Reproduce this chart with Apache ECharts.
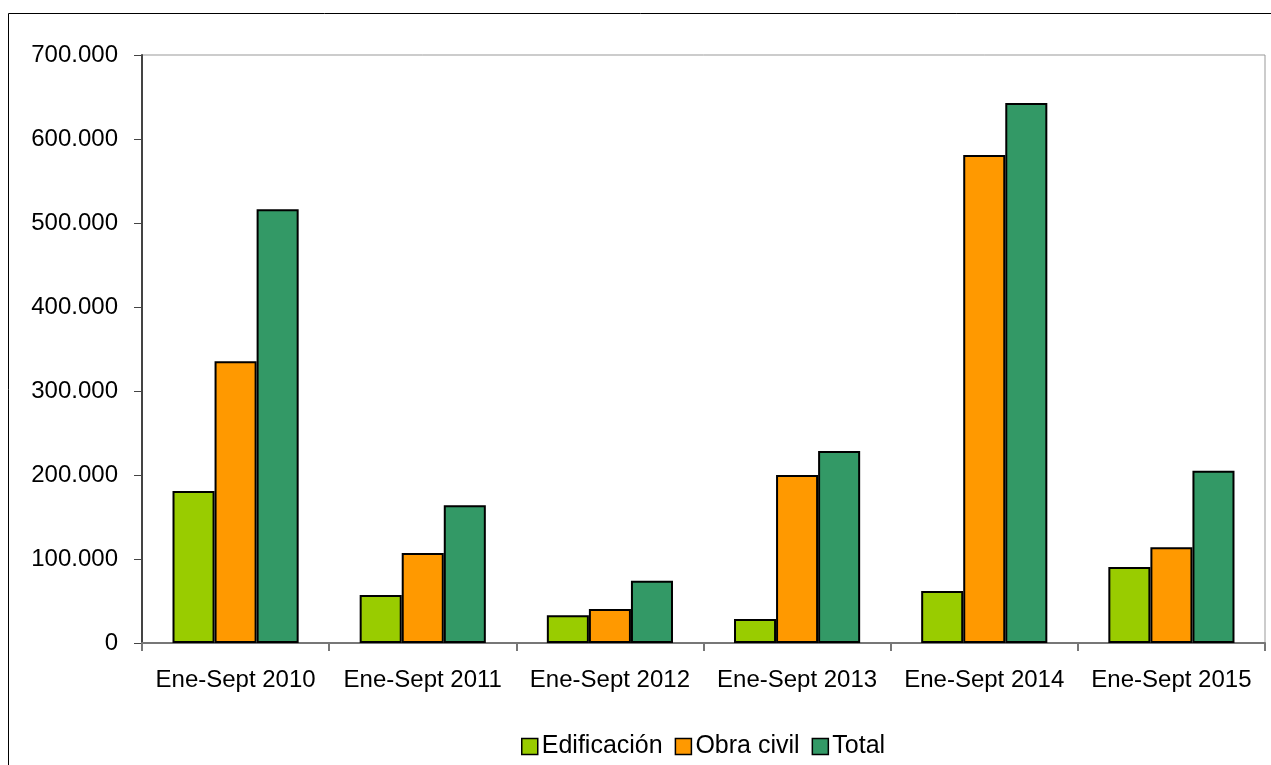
<!DOCTYPE html>
<html>
<head>
<meta charset="utf-8">
<script src="https://cdn.jsdelivr.net/npm/echarts@6/dist/echarts.min.js"></script>
<style>
  html, body { margin: 0; padding: 0; background: #fff; }
  #chart { width: 1271px; height: 765px; }
</style>
</head>
<body>
<div id="chart"></div>
<script>
var categories = ["Ene-Sept 2010", "Ene-Sept 2011", "Ene-Sept 2012", "Ene-Sept 2013", "Ene-Sept 2014", "Ene-Sept 2015"];
var edificacion = [181000, 57000, 33000, 28500, 62000, 90500];
var obraCivil = [335500, 107000, 40500, 200000, 581000, 114000];
var total = [516500, 164000, 74000, 228500, 643000, 205000];
var seriesNames = ["Edificación", "Obra civil", "Total"];
var colors = ["#99CC00", "#FF9900", "#339966"];

var chart = echarts.init(document.getElementById("chart"));

function fmt(v) {
  return String(v).replace(/\B(?=(\d{3})+(?!\d))/g, ".");
}

function barSeries(name, data, color) {
  return {
    name: name,
    type: "bar",
    barGap: "0%",
    barCategoryGap: "32.6%",
    itemStyle: {
      color: color,
      borderColor: "#000",
      borderWidth: 2
    },
    data: data
  };
}

var option = {
  animation: false,
  textStyle: { fontFamily: "Liberation Sans, Arial, sans-serif" },
  graphic: [
    {
      type: "rect",
      shape: { x: 8.5, y: 13.5, width: 1300, height: 800 },
      style: { fill: "none", stroke: "#000", lineWidth: 1 },
      silent: true,
      z: -10
    }
  ],
  grid: {
    left: 142,
    top: 55,
    right: 6,
    bottom: 122,
    show: true,
    borderColor: "#999",
    borderWidth: 1
  },
  legend: {
    top: 734,
    left: 521,
    padding: 0,
    icon: "rect",
    itemWidth: 16,
    itemHeight: 16,
    itemGap: 12,
    textStyle: { fontSize: 25, color: "#000", padding: [0, 0, 0, -1] },
    itemStyle: { borderColor: "#000", borderWidth: 1.5 },
    data: seriesNames
  },
  xAxis: {
    type: "category",
    data: categories,
    axisLine: { lineStyle: { color: "#777", width: 2 } },
    axisTick: { show: true, length: 8, lineStyle: { color: "#777", width: 2 } },
    axisLabel: { fontSize: 24, color: "#000", margin: 25, interval: 0 }
  },
  yAxis: {
    type: "value",
    min: 0,
    max: 700000,
    interval: 100000,
    axisLine: { show: true, lineStyle: { color: "#444", width: 2 } },
    axisTick: { show: true, length: 8, lineStyle: { color: "#444", width: 1 } },
    splitLine: { show: false },
    axisLabel: { fontSize: 24, color: "#000", margin: 24, formatter: fmt }
  },
  series: [
    barSeries(seriesNames[0], edificacion, colors[0]),
    barSeries(seriesNames[1], obraCivil, colors[1]),
    barSeries(seriesNames[2], total, colors[2])
  ]
};

chart.setOption(option);
</script>
</body>
</html>
